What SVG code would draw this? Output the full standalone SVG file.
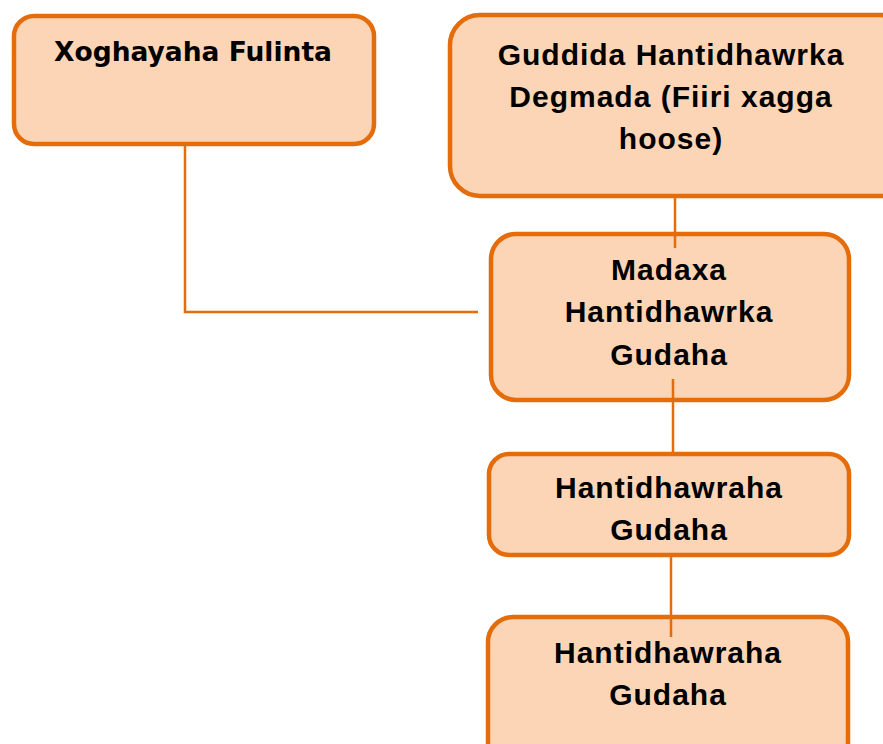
<svg xmlns="http://www.w3.org/2000/svg" width="883" height="744" viewBox="0 0 883 744">
<style>
.box{fill:#FBD5B5;stroke:#E46C0A;stroke-width:4.5}
.conn{fill:none;stroke:#E46C0A;stroke-width:2.5}
.t{font-family:"Liberation Sans",Arial,sans-serif;font-weight:bold;font-size:30px;letter-spacing:1px;fill:#000;text-anchor:middle}
.tv{font-family:"DejaVu Sans",Verdana,sans-serif;font-weight:bold;font-size:26.5px;fill:#000;text-anchor:middle}
</style>
<rect width="883" height="744" fill="#fff"/>
<g id="node-xoghayaha">
<rect class="box" x="14" y="16" width="360" height="128" rx="20"/>
<text class="tv" x="193" y="61">Xoghayaha Fulinta</text>
</g>
<g id="node-guddida">
<rect class="box" x="450" y="15" width="460" height="181" rx="30"/>
<text class="t" x="671" y="65">Guddida Hantidhawrka</text>
<text class="t" x="671" y="107">Degmada (Fiiri xagga</text>
<text class="t" x="671" y="149">hoose)</text>
</g>
<g id="node-madaxa">
<rect class="box" x="491" y="234" width="358" height="166" rx="25"/>
<text class="t" x="669" y="280">Madaxa</text>
<text class="t" x="669" y="322">Hantidhawrka</text>
<text class="t" x="669" y="365">Gudaha</text>
</g>
<g id="node-hantidhawraha1">
<rect class="box" x="489" y="454" width="360" height="101" rx="20"/>
<text class="t" x="669" y="498">Hantidhawraha</text>
<text class="t" x="669" y="540">Gudaha</text>
</g>
<g id="node-hantidhawraha2">
<rect class="box" x="488" y="617" width="360" height="150" rx="25"/>
<text class="t" x="668" y="663">Hantidhawraha</text>
<text class="t" x="668" y="705">Gudaha</text>
</g>
<g id="connectors">
<polyline class="conn" points="185,146 185,312 478,312"/>
<line class="conn" x1="675" y1="198" x2="675" y2="248"/>
<line class="conn" x1="673" y1="379" x2="673" y2="452"/>
<line class="conn" x1="671" y1="557" x2="671" y2="637"/>
</g>
</svg>
